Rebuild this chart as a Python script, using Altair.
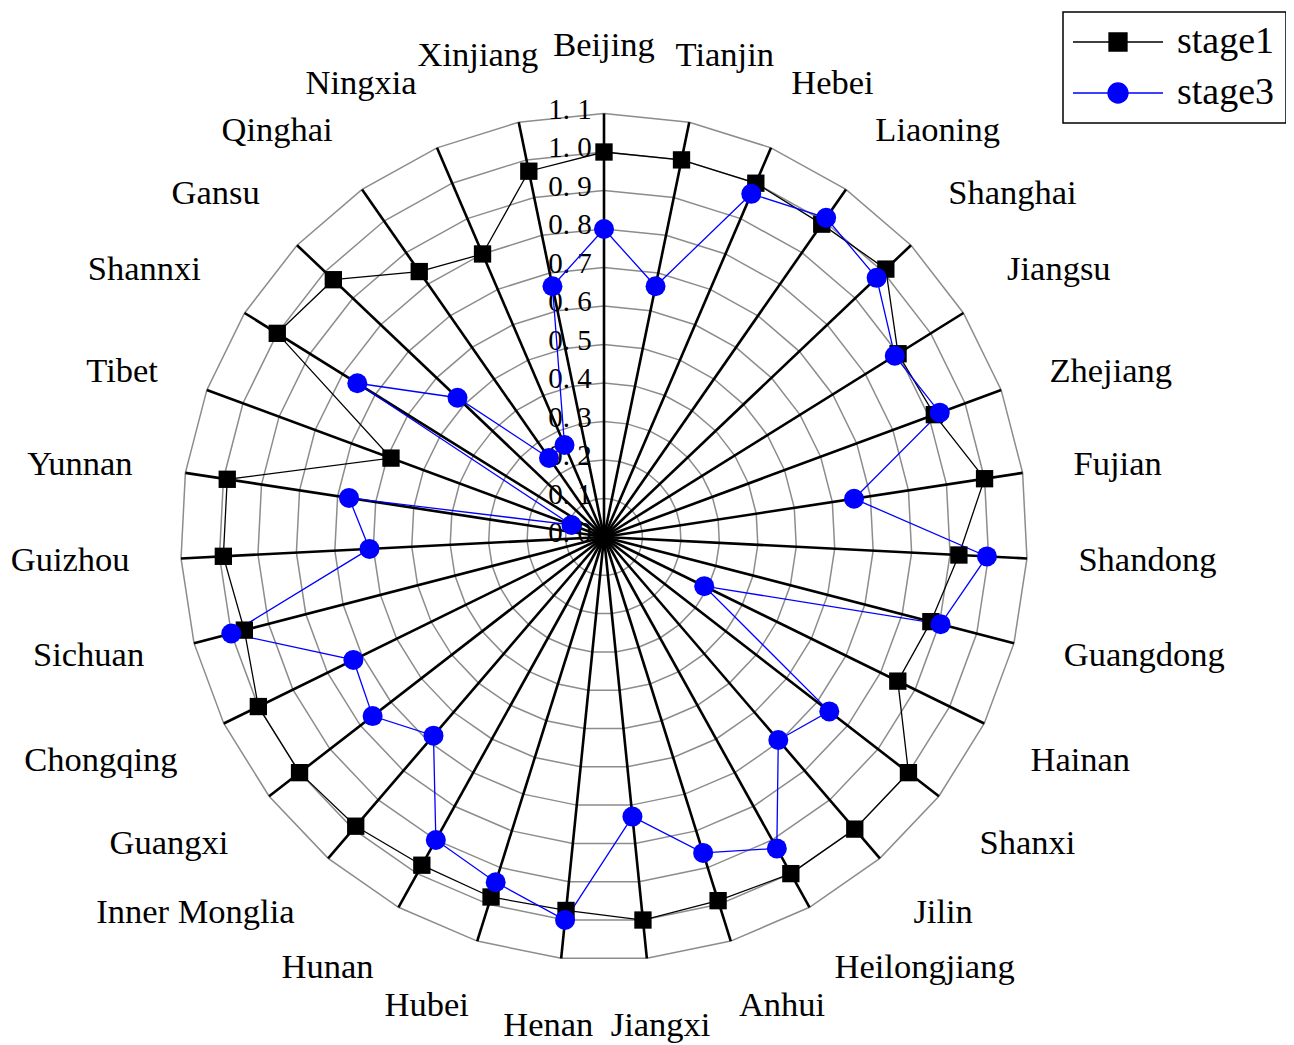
import altair as alt
import numpy as np
import pandas as pd

categories = ["Beijing", "Tianjin", "Hebei", "Liaoning", "Shanghai", "Jiangsu",
              "Zhejiang", "Fujian", "Shandong", "Guangdong", "Hainan", "Shanxi",
              "Jilin", "Heilongjiang", "Anhui", "Jiangxi", "Henan", "Hubei", "Hunan",
              "Inner Monglia", "Guangxi", "Chongqing", "Sichuan", "Guizhou", "Yunnan",
              "Tibet", "Shannxi", "Gansu", "Qinghai", "Ningxia", "Xinjiang"]
stage1 = [1.0, 1.0, 1.0, 0.99, 1.01, 0.90, 0.915, 1.0, 0.923, 0.877, 0.85, 1.0,
          1.0, 1.0, 0.99, 1.0, 0.975, 0.98, 0.975, 0.99, 1.0, 1.0, 0.965, 0.99,
          0.99, 0.59, 1.0, 0.97, 0.84, 0.80, 0.97]
stage3 = [0.80, 0.665, 0.97, 1.01, 0.977, 0.89, 0.93, 0.657, 0.996, 0.903, 0.29,
          0.74, 0.695, 0.925, 0.86, 0.73, 1.0, 0.94, 0.90, 0.68, 0.76, 0.725,
          1.0, 0.61, 0.67, 0.09, 0.755, 0.525, 0.25, 0.26, 0.665]
series_names = ["stage1", "stage3"]
ring_levels = [0.1, 0.2, 0.3, 0.4, 0.5, 0.6, 0.7, 0.8, 0.9, 1.0, 1.1]
tick_values = [0.0, 0.1, 0.2, 0.3, 0.4, 0.5, 0.6, 0.7, 0.8, 0.9, 1.0, 1.1]
tick_labels = ["0. 0", "0. 1", "0. 2", "0. 3", "0. 4", "0. 5", "0. 6", "0. 7",
               "0. 8", "0. 9", "1. 0", "1. 1"]

# ---- layout (pixels) ----
W, H = 1278, 1037
CX, CY = 596, 529          # centre of the radar inside the plot area
UNIT = 385.0               # pixels per 1.0
xdom = [-CX / UNIT, (W - CX) / UNIT]
ydom = [-(H - CY) / UNIT, CY / UNIT]
LABEL_FS = 34.5

# approximate Times/Liberation Serif advance widths (per em) for label layout
_cw = {"A": .722, "B": .667, "C": .667, "F": .556, "G": .722, "H": .722, "I": .333,
       "J": .389, "L": .611, "M": .889, "N": .722, "Q": .722, "S": .556, "T": .611,
       "X": .722, "Y": .722, "Z": .611, "a": .444, "b": .5, "c": .444, "d": .5,
       "e": .444, "g": .5, "h": .5, "i": .278, "j": .278, "l": .278, "m": .778,
       "n": .5, "o": .5, "q": .5, "r": .333, "s": .389, "t": .278, "u": .5,
       "x": .5, "z": .444, " ": .25}


def half_width(txt):
    return 0.5 * LABEL_FS * sum(_cw.get(ch, 0.5) for ch in txt)


n = len(categories)
angles = [i * 2 * np.pi / n for i in range(n)]

xs = alt.Scale(domain=xdom, nice=False, zero=False)
ys = alt.Scale(domain=ydom, nice=False, zero=False)
X = alt.X("px:Q", scale=xs, axis=None)
Y = alt.Y("py:Q", scale=ys, axis=None)

# ---- data tables ----
series_rows = []
for name, vals in zip(series_names, [stage1, stage3]):
    for k in range(n + 1):
        i = k % n
        series_rows.append({"series": name, "order": k, "category": categories[i],
                            "value": vals[i], "angle": angles[i]})
series_df = pd.DataFrame(series_rows)

ring_rows = []
for lv in ring_levels:
    for k in range(n + 1):
        ring_rows.append({"level": lv, "order": k, "angle": angles[k % n]})
ring_df = pd.DataFrame(ring_rows)

cat_df = pd.DataFrame({"category": categories, "angle": angles,
                       "halfw": [half_width(c) for c in categories]})
tick_df = pd.DataFrame({"value": tick_values, "label": tick_labels})
legend_df = pd.DataFrame({"series": series_names})

polar = dict(px="datum.value * sin(datum.angle)", py="datum.value * cos(datum.angle)")

rings = alt.Chart(ring_df).transform_calculate(
    px="datum.level * sin(datum.angle)", py="datum.level * cos(datum.angle)"
).mark_line(color="#8c8c8c", strokeWidth=1.5).encode(
    x=X, y=Y, order="order:Q", detail="level:N")

ticks = alt.Chart(tick_df).transform_calculate(
    px=str(-34 / UNIT), py=f"datum.value + {4 / UNIT}"
).mark_text(font="Liberation Serif", fontSize=29, color="black",
            align="center", baseline="middle").encode(x=X, y=Y, text="label:N")

spokes = alt.Chart(cat_df).transform_calculate(
    px="0", py="0",
    px2="1.1 * sin(datum.angle)", py2="1.1 * cos(datum.angle)"
).mark_rule(color="black", strokeWidth=2.6).encode(
    x=X, y=Y, x2="px2:Q", y2="py2:Q")


def series_line(name, colour):
    return alt.Chart(series_df).transform_filter(
        alt.datum.series == name
    ).transform_calculate(**polar).mark_line(
        color=colour, strokeWidth=1.3).encode(x=X, y=Y, order="order:Q")


def series_points(name, colour, shape, size):
    return alt.Chart(series_df).transform_filter(
        (alt.datum.series == name) & (alt.datum.order < n)
    ).transform_calculate(**polar).mark_point(
        shape=shape, filled=True, size=size, color=colour, opacity=1,
        strokeWidth=0).encode(x=X, y=Y, tooltip=["category:N", "value:Q"])


labels = alt.Chart(cat_df).transform_calculate(
    s="sin(datum.angle)", c="cos(datum.angle)"
).transform_calculate(
    fx="(datum.s >= 0 ? 1 : -1) * clamp((abs(datum.s) - 0.05) / 0.3, 0, 1)",
    fy="(datum.c >= 0 ? 1 : -1) * clamp((abs(datum.c) - 0.35) / 0.1, 0, 1)",
).transform_calculate(
    px=f"(475 * datum.s + datum.halfw * datum.fx) / {UNIT}",
    py=f"(475 * datum.c + 16 * datum.fy) / {UNIT}",
).mark_text(font="Liberation Serif", fontSize=LABEL_FS, color="black",
            align="center", baseline="middle").encode(x=X, y=Y, text="category:N")

# legend: symbol = line through marker (path units = 10 px at symbolSize 400)
sq_path = "M-2,0H7M1.6,-0.9H3.4V0.9H1.6Z"
ci_path = "M-2,0H7M3.5,0A1,1,0,1,1,1.5,0A1,1,0,1,1,3.5,0Z"
leg = alt.Legend(title=None, orient="none", legendX=1055, legendY=4,
                 symbolSize=400, symbolStrokeWidth=1.3, symbolOpacity=1,
                 labelFont="Liberation Serif", labelFontSize=38,
                 labelColor="black", labelOffset=65, padding=11,
                 rowPadding=13, strokeColor="black", fillColor="white")
legend_layer = alt.Chart(legend_df).transform_filter("false").transform_calculate(
    px="0", py="0"
).mark_point(filled=True).encode(
    x=X, y=Y,
    fill=alt.Fill("series:N", scale=alt.Scale(domain=series_names, range=["black", "blue"]), legend=leg),
    stroke=alt.Stroke("series:N", scale=alt.Scale(domain=series_names, range=["black", "blue"]), legend=leg),
    shape=alt.Shape("series:N", scale=alt.Scale(domain=series_names, range=[sq_path, ci_path]), legend=leg),
)

chart = alt.layer(
    rings, ticks, spokes,
    series_line("stage1", "black"), series_line("stage3", "blue"),
    series_points("stage1", "black", "square", 300),
    series_points("stage3", "blue", "circle", 400),
    labels, legend_layer,
).properties(
    width=W, height=H, padding=0, autosize=alt.AutoSizeParams(type="none"),
    background="white",
).configure_view(stroke=None).configure_legend(strokeWidth=1.5)

chart.save("out.html", embed_options={"renderer": "svg", "actions": False})
